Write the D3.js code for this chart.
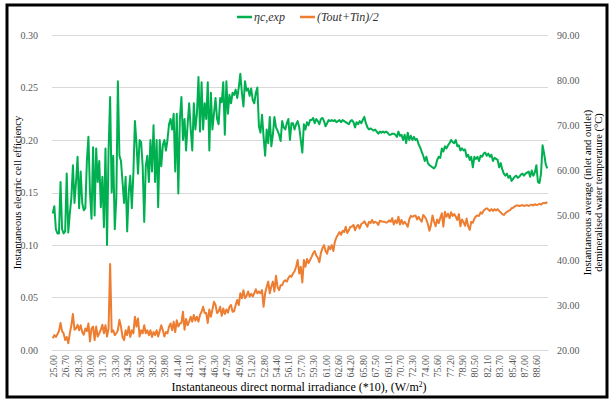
<!DOCTYPE html>
<html>
<head>
<meta charset="utf-8">
<script src="https://cdn.jsdelivr.net/npm/d3@7/dist/d3.min.js"></script>
<style>
  body { margin: 0; background: #fff; }
  svg text { font-family: 'Liberation Serif', 'Times New Roman', serif; }
</style>
</head>
<body>
<svg id="chart" width="609" height="401"></svg>
<script>
// x category labels, one for every 8th measurement
const irradianceLabels = ['25.00', '26.70', '28.30', '30.00', '31.70', '33.30', '34.90', '36.50', '38.20', '39.80',
  '41.40', '43.10', '44.70', '46.30', '47.90', '49.60', '51.20', '52.80', '54.40', '56.10',
  '57.70', '59.30', '61.00', '62.60', '64.20', '65.80', '67.50', '69.10', '70.70', '72.30',
  '74.00', '75.60', '77.20', '78.90', '80.50', '82.10', '83.70', '85.40', '87.00', '88.60'];
const labelStep = 8;

// instantaneous electric cell efficiency (left axis)
const efficiency = [
  0.130, 0.137, 0.115, 0.111, 0.111, 0.160, 0.115, 0.111,
  0.113, 0.168, 0.112, 0.130, 0.145, 0.176, 0.140, 0.160,
  0.184, 0.135, 0.170, 0.140, 0.133, 0.135, 0.180, 0.203,
  0.150, 0.125, 0.193, 0.128, 0.192, 0.160, 0.180, 0.136,
  0.165, 0.117, 0.192, 0.100, 0.190, 0.241, 0.150, 0.185,
  0.115, 0.145, 0.256, 0.185, 0.180, 0.160, 0.140, 0.165,
  0.113, 0.150, 0.166, 0.135, 0.168, 0.218, 0.197, 0.168,
  0.200, 0.198, 0.175, 0.122, 0.175, 0.185, 0.160, 0.200,
  0.170, 0.214, 0.160, 0.200, 0.136, 0.200, 0.175, 0.195,
  0.200, 0.190, 0.200, 0.215, 0.220, 0.210, 0.225, 0.170,
  0.225, 0.149, 0.220, 0.241, 0.200, 0.220, 0.190, 0.215,
  0.235, 0.210, 0.190, 0.235, 0.210, 0.225, 0.260, 0.208,
  0.255, 0.210, 0.235, 0.220, 0.255, 0.190, 0.245, 0.210,
  0.225, 0.240, 0.220, 0.215, 0.240, 0.236, 0.255, 0.205,
  0.256, 0.225, 0.243, 0.235, 0.245, 0.243, 0.248, 0.240,
  0.250, 0.263, 0.245, 0.232, 0.256, 0.247, 0.249, 0.242,
  0.249, 0.238, 0.235, 0.245, 0.250, 0.213, 0.207, 0.224,
  0.203, 0.185, 0.210, 0.197, 0.222, 0.194, 0.205, 0.222,
  0.212, 0.209, 0.205, 0.199, 0.218, 0.212, 0.210, 0.216,
  0.220, 0.200, 0.216, 0.216, 0.210, 0.215, 0.218, 0.212,
  0.200, 0.188, 0.215, 0.210, 0.217, 0.214, 0.219, 0.219,
  0.221, 0.216, 0.220, 0.218, 0.215, 0.220, 0.221, 0.218,
  0.213, 0.216, 0.219, 0.218, 0.219, 0.218, 0.219, 0.217,
  0.218, 0.219, 0.217, 0.219, 0.218, 0.217, 0.216, 0.215,
  0.218, 0.219, 0.217, 0.212, 0.217, 0.215, 0.218, 0.216,
  0.219, 0.222, 0.216, 0.212, 0.210, 0.211, 0.210, 0.209,
  0.210, 0.208, 0.206, 0.208, 0.207, 0.208, 0.207, 0.208,
  0.207, 0.205, 0.205, 0.206, 0.206, 0.205, 0.203, 0.208,
  0.204, 0.205, 0.200, 0.205, 0.197, 0.207, 0.200, 0.204,
  0.200, 0.203, 0.200, 0.201, 0.196, 0.193, 0.189, 0.185,
  0.180, 0.184, 0.178, 0.176, 0.175, 0.174, 0.173, 0.175,
  0.181, 0.184, 0.183, 0.192, 0.189, 0.194, 0.192, 0.195,
  0.197, 0.200, 0.198, 0.197, 0.200, 0.194, 0.195, 0.190,
  0.192, 0.190, 0.191, 0.184, 0.186, 0.181, 0.184, 0.174,
  0.184, 0.182, 0.184, 0.180, 0.185, 0.184, 0.187, 0.188,
  0.185, 0.187, 0.184, 0.186, 0.180, 0.183, 0.182, 0.181,
  0.174, 0.178, 0.172, 0.168, 0.166, 0.168, 0.164, 0.166,
  0.161, 0.163, 0.165, 0.166, 0.164, 0.165, 0.167, 0.168,
  0.166, 0.168, 0.169, 0.170, 0.165, 0.171, 0.166, 0.169,
  0.176, 0.160, 0.159, 0.168, 0.195, 0.187, 0.177, 0.173
];

// (Tout+Tin)/2 in degC (right axis)
const avgTemp = [
  22.6, 23.3, 22.9, 23.5, 24.2, 26.0, 24.2, 23.7,
  22.2, 22.9, 21.5, 23.7, 25.5, 28.0, 24.5, 24.8,
  25.6, 24.4, 25.5, 24.0, 23.4, 24.8, 24.2, 25.9,
  21.9, 24.8, 25.2, 22.2, 25.2, 23.0, 23.7, 24.5,
  25.6, 23.7, 25.5, 23.0, 24.8, 39.1, 24.0, 24.4,
  23.3, 23.7, 24.4, 26.7, 25.2, 22.9, 22.2, 24.4,
  23.3, 25.2, 22.9, 24.4, 23.7, 27.4, 25.2, 27.0,
  23.0, 24.4, 23.7, 25.5, 23.7, 24.4, 23.3, 24.4,
  22.9, 24.0, 23.3, 24.4, 23.0, 24.2, 25.5, 24.4,
  23.0, 24.0, 23.7, 25.2, 25.9, 24.4, 26.3, 24.0,
  26.6, 25.2, 25.9, 26.0, 28.5, 24.5, 26.9, 25.5,
  26.3, 27.4, 26.3, 27.8, 26.5, 27.4, 26.3, 27.8,
  28.5, 29.6, 28.2, 28.2, 26.0, 29.0, 27.4, 29.0,
  30.7, 30.0, 28.2, 28.6, 29.6, 27.6, 29.2, 28.0,
  29.0, 28.3, 29.6, 30.0, 28.5, 28.6, 30.0, 31.1,
  30.0, 32.6, 31.5, 33.3, 31.5, 32.0, 33.0, 31.9,
  32.5, 31.9, 32.6, 33.5, 32.6, 33.0, 32.6, 33.3,
  29.6, 32.6, 34.0, 35.2, 32.6, 34.1, 35.2, 33.0,
  36.5, 34.0, 33.3, 34.4, 34.4, 35.2, 35.5, 35.2,
  36.0, 36.5, 36.3, 37.0, 37.5, 38.5, 40.0, 37.0,
  38.5, 35.0, 40.0, 38.5, 40.2, 39.3, 40.0, 40.7,
  41.5, 42.0, 41.0, 40.5, 39.5, 41.6, 42.6, 43.3,
  42.0, 41.4, 43.0, 42.4, 43.3, 42.0, 44.1, 45.0,
  45.6, 46.2, 45.6, 46.5, 46.2, 47.4, 46.0, 46.6,
  47.4, 47.4, 47.8, 46.6, 47.4, 47.8, 47.0, 48.0,
  48.2, 48.6, 48.0, 47.4, 48.5, 48.2, 48.9, 48.2,
  48.5, 48.3, 47.8, 48.7, 48.6, 48.5, 48.5, 48.3,
  48.4, 48.8, 48.5, 49.3, 47.9, 48.8, 48.2, 49.6,
  47.9, 48.9, 48.0, 48.5, 48.0, 47.4, 49.0, 49.8,
  49.6, 49.8, 49.9, 49.0, 49.6, 49.0, 48.5, 50.0,
  49.6, 49.0, 48.0, 46.5, 47.8, 49.9, 48.5, 47.5,
  49.0, 48.2, 49.3, 50.4, 47.4, 50.7, 49.6, 50.3,
  49.3, 50.6, 49.8, 50.2, 49.6, 48.9, 50.2, 47.5,
  49.0, 48.4, 47.6, 49.2, 47.5, 46.7, 48.5, 48.3,
  49.2, 49.7, 49.9, 49.8, 50.6, 50.3, 51.0, 51.3,
  51.5, 51.2, 50.9, 51.3, 50.9, 51.3, 51.0, 51.3,
  50.9, 50.6, 50.2, 50.0, 50.4, 50.7, 50.9, 51.1,
  51.5, 51.6, 51.9, 52.1, 52.1, 52.0, 52.1, 52.2,
  52.0, 52.1, 52.2, 52.0, 52.2, 52.3, 52.1, 52.4,
  52.2, 52.3, 52.5, 52.3, 52.6, 52.7, 52.6, 52.9
];

const svg = d3.select('#chart');
const plot = { left: 52, right: 548, top: 35, bottom: 350 };
const tickColor = '#595959';
const serif = "'Liberation Serif', 'Times New Roman', serif";

// outer frame
svg.append('rect')
  .attr('x', 7).attr('y', 5)
  .attr('width', 600).attr('height', 392)
  .attr('fill', '#fff')
  .attr('stroke', '#000')
  .attr('stroke-width', 3);

const x = d3.scaleLinear().domain([-0.5, efficiency.length - 0.5]).range([plot.left, plot.right]);
const yLeft = d3.scaleLinear().domain([0, 0.30]).range([plot.bottom, plot.top]);
const yRight = d3.scaleLinear().domain([20, 90]).range([plot.bottom, plot.top]);

// gridlines from the left axis
svg.append('g')
  .attr('class', 'grid')
  .selectAll('line')
  .data(yLeft.ticks(6))
  .enter()
  .append('line')
  .attr('x1', plot.left).attr('x2', plot.right)
  .attr('y1', d => Math.round(yLeft(d)) + 0.5)
  .attr('y2', d => Math.round(yLeft(d)) + 0.5)
  .attr('stroke', '#d9d9d9')
  .attr('stroke-width', 1);

// left axis
const leftAxis = svg.append('g')
  .attr('transform', `translate(${plot.left - 14}, 0)`)
  .call(d3.axisLeft(yLeft).ticks(6).tickFormat(d3.format('.2f')).tickSize(0).tickPadding(0));
leftAxis.select('.domain').remove();
leftAxis.attr('font-family', serif);
leftAxis.selectAll('text').attr('fill', tickColor).style('font-size', '10px');

// right axis
const rightAxis = svg.append('g')
  .attr('transform', `translate(${plot.right + 9}, 0)`)
  .call(d3.axisRight(yRight).tickValues(d3.range(20, 91, 10)).tickFormat(d3.format('.2f')).tickSize(0).tickPadding(0));
rightAxis.select('.domain').remove();
rightAxis.attr('font-family', serif);
rightAxis.selectAll('text').attr('fill', tickColor).style('font-size', '10px');

// bottom category axis, rotated labels
const labelIdx = irradianceLabels.map((d, i) => i * labelStep);
const bottomAxis = svg.append('g')
  .attr('transform', `translate(0, ${plot.bottom})`)
  .call(d3.axisBottom(x).tickValues(labelIdx).tickFormat(d => irradianceLabels[d / labelStep]).tickSize(0));
bottomAxis.select('.domain').attr('stroke', '#d9d9d9');
bottomAxis.attr('font-family', serif);
bottomAxis.selectAll('text')
  .attr('fill', tickColor)
  .style('font-size', '10px')
  .attr('text-anchor', 'end')
  .attr('transform', 'rotate(-90)')
  .attr('x', -5)
  .attr('y', 0)
  .attr('dy', '0.35em');

// lines
const effLine = d3.line().x((d, i) => x(i)).y(d => yLeft(d));
const tempLine = d3.line().x((d, i) => x(i)).y(d => yRight(d));

svg.append('path')
  .datum(avgTemp)
  .attr('fill', 'none')
  .attr('stroke', '#ed7d31')
  .attr('stroke-width', 2)
  .attr('stroke-linejoin', 'round')
  .attr('d', tempLine);

svg.append('path')
  .datum(efficiency)
  .attr('fill', 'none')
  .attr('stroke', '#00b050')
  .attr('stroke-width', 2)
  .attr('stroke-linejoin', 'round')
  .attr('d', effLine);

// axis titles
svg.append('text')
  .attr('transform', `translate(21, ${(plot.top + plot.bottom) / 2}) rotate(-90)`)
  .attr('text-anchor', 'middle')
  .attr('fill', '#000')
  .style('font-size', '10.5px')
  .text('Instantaneous electric cell efficiency');

const rightTitle = svg.append('text')
  .attr('transform', `translate(591, ${(plot.top + plot.bottom) / 2}) rotate(-90)`)
  .attr('text-anchor', 'middle')
  .attr('fill', '#000')
  .style('font-size', '10.5px');
rightTitle.append('tspan').attr('x', 0).attr('y', 0).text('Instantaneous average (inlet and outlet)');
rightTitle.append('tspan').attr('x', 0).attr('y', 11).text('demineralised  water temperature (°C)');

const xTitle = svg.append('text')
  .attr('x', 299).attr('y', 391)
  .attr('text-anchor', 'middle')
  .attr('fill', '#000')
  .style('font-size', '12px');
xTitle.append('tspan').text('Instantaneous direct normal irradiance (*10), (W/m');
xTitle.append('tspan').attr('dy', -4).style('font-size', '7.5px').text('2');
xTitle.append('tspan').attr('dy', 4).text(')');

// legend
const legend = svg.append('g').attr('transform', 'translate(237, 17)');
const legendItems = [
  { name: 'ηc,exp', color: '#00b050', dx: 0 },
  { name: '(Tout+Tin)/2', color: '#ed7d31', dx: 63 },
];
legendItems.forEach(item => {
  const g = legend.append('g').attr('transform', `translate(${item.dx}, 0)`);
  g.append('line').attr('x1', 0).attr('x2', 15).attr('y1', 0).attr('y2', 0)
    .attr('stroke', item.color).attr('stroke-width', 2.5);
  g.append('text').attr('x', 17).attr('y', 4)
    .style('font-size', '12px').style('font-style', 'italic')
    .attr('fill', '#333')
    .text(item.name);
});
</script>
</body>
</html>
